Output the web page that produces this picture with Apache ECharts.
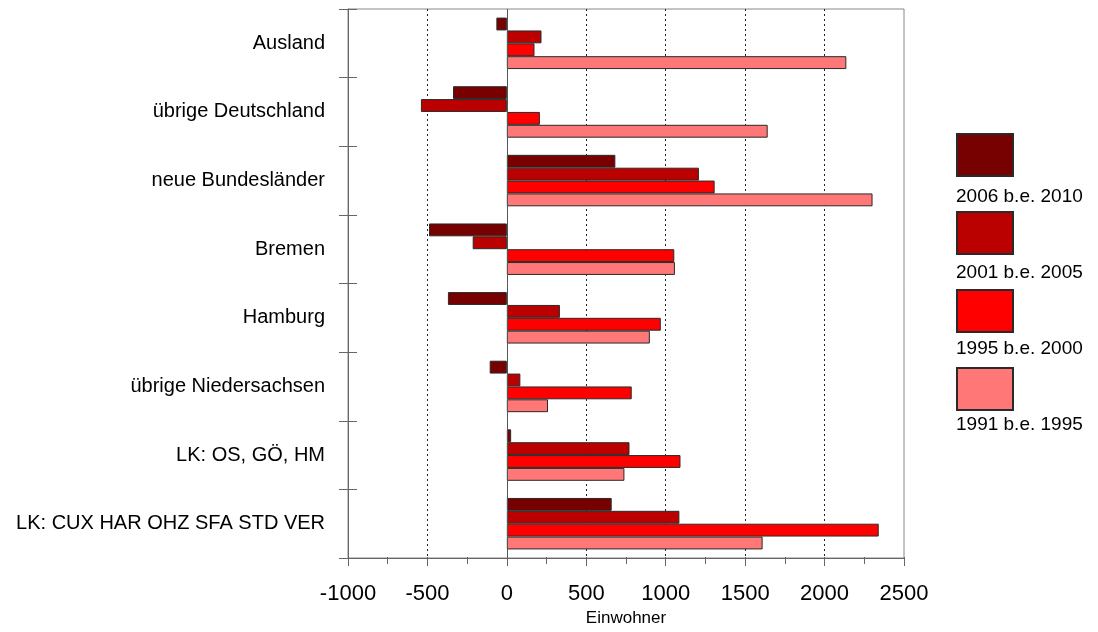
<!DOCTYPE html>
<html>
<head>
<meta charset="utf-8">
<title>Wanderungssaldo nach Herkunft</title>
<script src="https://cdn.jsdelivr.net/npm/echarts@6/dist/echarts.min.js"></script>
<style>
  html, body { margin: 0; padding: 0; background: #fff; }
  #chart { width: 1098px; height: 632px; }
</style>
</head>
<body>
<div id="chart"></div>
<script>
// Herkunftsgebiete, von oben nach unten
const categories = [
  'Ausland',
  'übrige Deutschland',
  'neue Bundesländer',
  'Bremen',
  'Hamburg',
  'übrige Niedersachsen',
  'LK: OS, GÖ, HM',
  'LK: CUX HAR OHZ SFA STD VER'
];

// Zeiträume (Legende)
const periods = ['2006 b.e. 2010', '2001 b.e. 2005', '1995 b.e. 2000', '1991 b.e. 1995'];

// Wanderungssaldo in Einwohnern je Zeitraum
const saldo2006_2010 = [-66, -339, 683, -490, -371, -108, 27, 660];
const saldo2001_2005 = [218, -541, 1209, -215, 334, 85, 772, 1086];
const saldo1995_2000 = [174, 208, 1308, 1054, 969, 786, 1093, 2341];
const saldo1991_1995 = [2137, 1642, 2302, 1058, 900, 259, 740, 1610];

// Achsenbeschriftung
const xTicks = { min: -1000, max: 2500, step: 500 };
const xName = 'Einwohner';

const colors = ['#770000', '#BB0000', '#FF0000', '#FF7777'];
const seriesValues = [saldo2006_2010, saldo2001_2005, saldo1995_2000, saldo1991_1995];

const font = '"Liberation Sans", Arial, sans-serif';
const axisGray = '#666';

// Zeichenfläche
const plot = { left: 348, top: 9, width: 556, height: 553 };

const series = periods.map((name, i) => ({
  name: name,
  type: 'bar',
  xAxisIndex: 0,
  yAxisIndex: 0,
  data: seriesValues[i],
  barGap: '0%',
  barCategoryGap: '25%',
  itemStyle: { color: colors[i], borderColor: '#2a2a2a', borderWidth: 1 },
  emphasis: { disabled: true }
}));

// durchgezogene Nulllinie
series[0].markLine = {
  silent: true,
  symbol: 'none',
  label: { show: false },
  lineStyle: { color: '#555', type: 'solid', width: 1 },
  data: [{ xAxis: 0 }]
};

const chart = echarts.init(document.getElementById('chart'), null, { renderer: 'canvas' });

chart.setOption({
  backgroundColor: '#fff',
  animation: false,
  textStyle: { fontFamily: font, color: '#000' },
  grid: {
    left: plot.left, top: plot.top, width: plot.width, height: plot.height,
    show: true, borderColor: '#888', borderWidth: 1, backgroundColor: 'transparent'
  },
  legend: [
    {
      data: periods,
      orient: 'vertical',
      left: 956, top: 133,
      padding: 0,
      icon: 'rect',
      itemWidth: 56, itemHeight: 42, itemGap: 34,
      formatter: () => '',
      selectedMode: false
    },
    {
      data: periods,
      orient: 'vertical',
      left: 951, top: 186,
      padding: 0,
      icon: 'none',
      itemWidth: 0, itemHeight: 22, itemGap: 54,
      itemStyle: { opacity: 0 },
      textStyle: { fontFamily: font, fontSize: 19, color: '#000', lineHeight: 22 },
      selectedMode: false
    }
  ],
  xAxis: [
    {
      type: 'value',
      position: 'bottom',
      min: xTicks.min, max: xTicks.max, interval: xTicks.step,
      axisLine: { show: true, lineStyle: { color: axisGray, width: 1 } },
      axisTick: { show: true, length: 8, lineStyle: { color: axisGray } },
      minorTick: { show: true, splitNumber: 2, length: 6, lineStyle: { color: axisGray } },
      axisLabel: {
        fontSize: 22, color: '#000', margin: 25, fontFamily: font,
        formatter: (v) => String(v)
      },
      splitLine: {
        show: true, showMinLine: false, showMaxLine: false,
        lineStyle: { color: '#222', type: [2, 3], width: 1 }
      },
      name: xName,
      nameLocation: 'middle',
      nameGap: 52,
      nameTextStyle: { fontSize: 17, color: '#000', fontFamily: font }
    },
    {
      // zweite Skala: Teilstriche nach innen, an den unteren Rand verschoben
      type: 'value',
      position: 'top',
      offset: -plot.height,
      min: xTicks.min, max: xTicks.max, interval: xTicks.step,
      axisLine: { show: false },
      axisTick: { show: true, inside: false, length: 5, lineStyle: { color: axisGray } },
      minorTick: { show: true, splitNumber: 2, length: 5, lineStyle: { color: axisGray } },
      axisLabel: { show: false },
      splitLine: { show: false }
    }
  ],
  yAxis: [
    {
      type: 'category',
      data: categories,
      inverse: true,
      position: 'left',
      axisLine: { show: true, onZero: false, lineStyle: { color: axisGray, width: 1 } },
      axisTick: { show: true, length: 9, lineStyle: { color: axisGray } },
      axisLabel: { fontSize: 20, color: '#000', margin: 23, fontFamily: font },
      splitLine: { show: false }
    },
    {
      // zweite Kategorienachse: Teilstriche nach innen, an den linken Rand verschoben
      type: 'category',
      data: categories,
      inverse: true,
      position: 'right',
      offset: -plot.width,
      axisLine: { show: false, onZero: false },
      axisTick: { show: true, inside: false, length: 9, lineStyle: { color: axisGray } },
      axisLabel: { show: false },
      splitLine: { show: false }
    }
  ],
  series: series
});
</script>
</body>
</html>
